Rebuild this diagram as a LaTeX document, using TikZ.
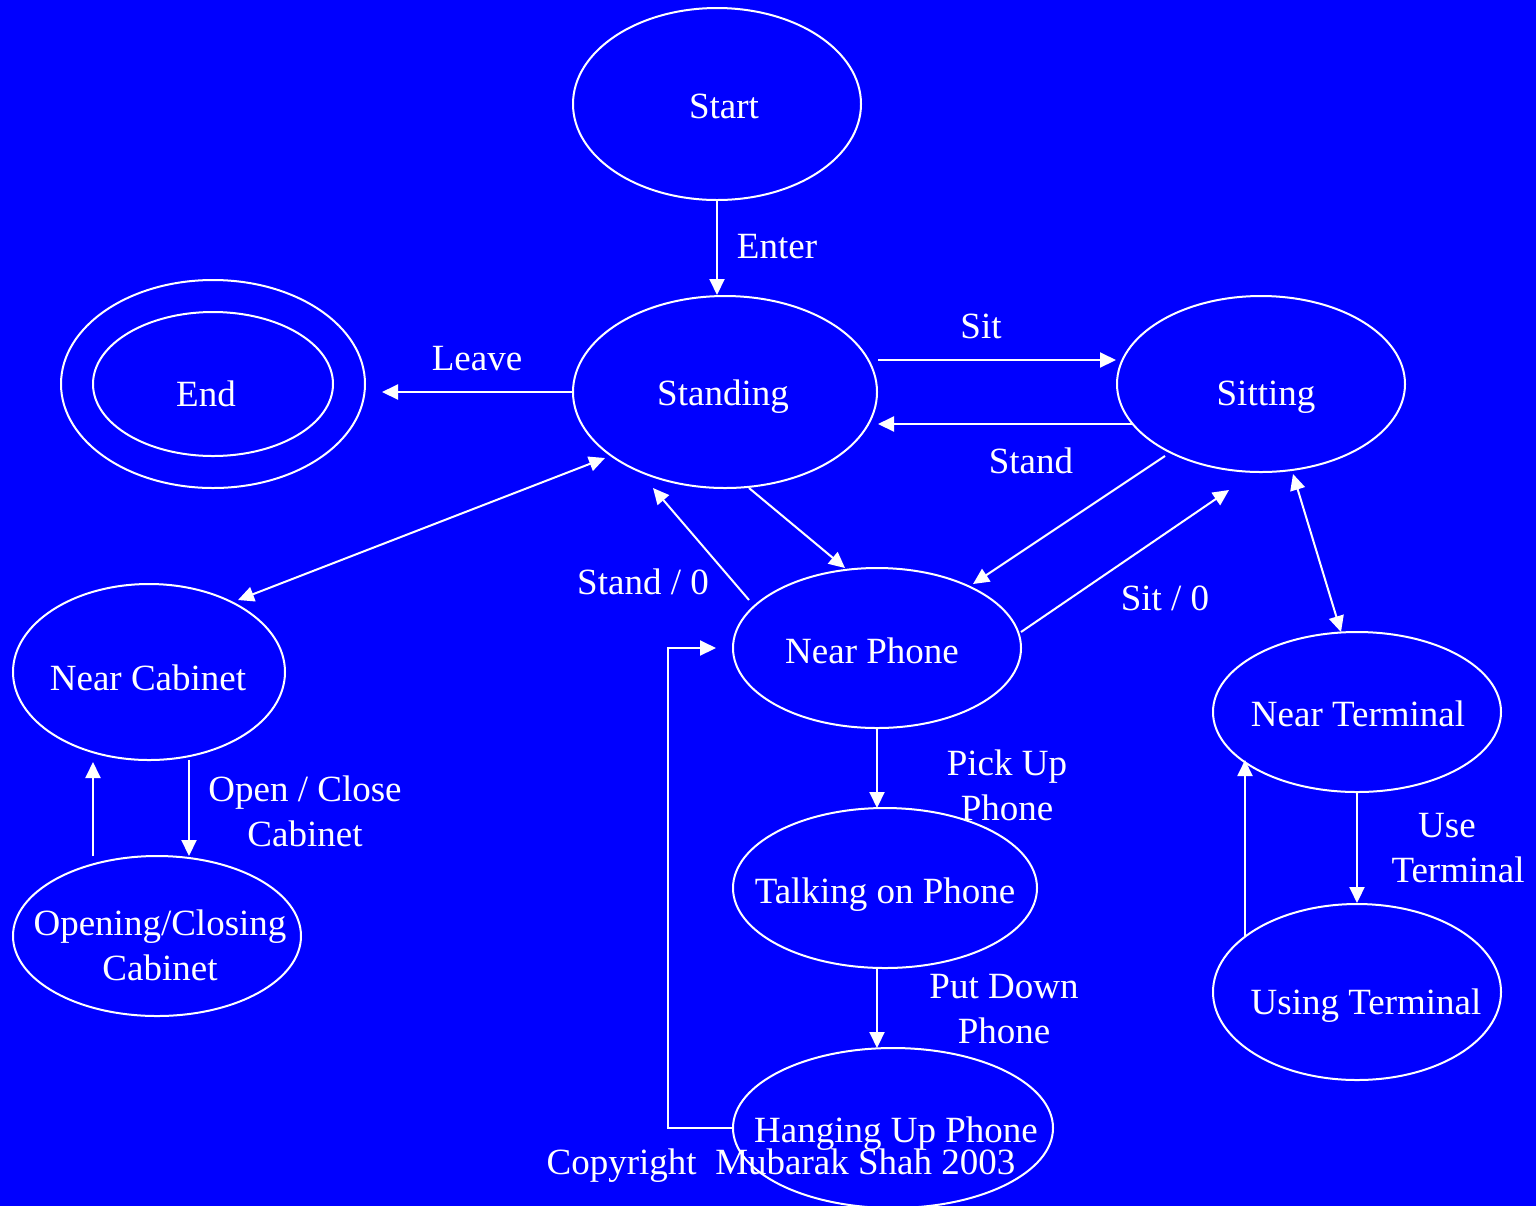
\documentclass[tikz,border=0pt]{standalone}
\usepackage{fontspec}
\setmainfont{Liberation Serif}
\usetikzlibrary{shapes.geometric,arrows.meta}
\definecolor{bgblue}{RGB}{0,0,255}
\begin{document}
\begin{tikzpicture}[x=0.5pt,y=-0.5pt,
  txtfont/.style={font=\fontsize{18.5}{22.5}\selectfont},
  state/.style={draw=white, line width=1pt, ellipse, inner sep=0pt},
  lbl/.style={text=white, txtfont, align=center, inner sep=0pt},
  arr/.style={draw=white, line width=1pt, -{Triangle[length=8pt,width=7.5pt]}},
  darr/.style={draw=white, line width=1pt,
    {Triangle[length=8pt,width=7.5pt]}-{Triangle[length=8pt,width=7.5pt]}}]
\fill[bgblue] (0,0) rectangle (1536,1206);
\useasboundingbox (0,0) rectangle (1536,1206);

% states (outlines)
\node[state, minimum width=144pt, minimum height=96pt] (start) at (717,104) {};
\node[state, minimum width=152pt, minimum height=96pt] (standing) at (725,392) {};
\node[state, minimum width=144pt, minimum height=88pt] (sitting) at (1261,384) {};
\node[state, minimum width=152pt, minimum height=104pt] (endouter) at (213,384) {};
\node[state, minimum width=120pt, minimum height=72pt] (endinner) at (213,384) {};
\node[state, minimum width=136pt, minimum height=88pt] (nearcab) at (149,672) {};
\node[state, minimum width=144pt, minimum height=80pt] (opencab) at (157,936) {};
\node[state, minimum width=144pt, minimum height=80pt] (nearphone) at (877,648) {};
\node[state, minimum width=152pt, minimum height=80pt] (talking) at (885,888) {};
\node[state, minimum width=160pt, minimum height=80pt] (hanging) at (893,1128) {};
\node[state, minimum width=144pt, minimum height=80pt] (nearterm) at (1357,712) {};
\node[state, minimum width=144pt, minimum height=88pt] (usingterm) at (1357,992) {};

% state names
\node[lbl, anchor=base] (tstart) at (724,118) {Start};
\node[lbl, anchor=base] (tstanding) at (723,405) {Standing};
\node[lbl, anchor=base] (tsitting) at (1266,405) {Sitting};
\node[lbl, anchor=base] (tend) at (206,406) {End};
\node[lbl, anchor=base] (tnearcab) at (148,690) {Near Cabinet};
\node[lbl] (topencab) at (160,945) {Opening/Closing\\Cabinet};
\node[lbl, anchor=base] (tnearphone) at (872,663) {Near Phone};
\node[lbl, anchor=base] (ttalking) at (885,903) {Talking on Phone};
\node[lbl, anchor=base] (thanging) at (896,1142) {Hanging Up Phone};
\node[lbl, anchor=base] (tnearterm) at (1358,726) {Near Terminal};
\node[lbl, anchor=base] (tusingterm) at (1366,1014) {Using Terminal};

% transitions
\draw[arr] (start.south) -- (start.south |- standing.north);
\draw[arr] ([yshift=16pt]standing.east) -- ([yshift=12pt]sitting.west);
\draw[arr] ([xshift=8pt,yshift=-20pt]sitting.west) -- ([yshift=-16pt]standing.east);
\draw[arr] (standing.west) -- ([xshift=8pt,yshift=-4pt]endouter.east);
\draw[darr] ([shift={(-120,66)}]standing.center) -- ([shift={(89,-72)}]nearcab.center);
\draw[arr] ([shift={(24,96)}]standing.center) -- ([shift={(-32,-80)}]nearphone.center);
\draw[arr] ([shift={(-128,-48)}]nearphone.center) -- ([shift={(-72,96)}]standing.center);
\draw[arr] ([shift={(-96,72)}]sitting.center) -- ([shift={(96,-64)}]nearphone.center);
\draw[arr] ([shift={(144,-16)}]nearphone.center) -- ([shift={(-32,106)}]sitting.center);
\draw[darr] ([shift={(32,90)}]sitting.center) -- ([shift={(-16,-80)}]nearterm.center);
\draw[arr] (nearphone.south) -- ([shift={(-8,-80)}]talking.center);
\draw[arr] ([shift={(-8,80)}]talking.center) -- ([shift={(-16,-80)}]hanging.center);
\draw[arr] (hanging.west) -- ++(-64,0) |- ([xshift=-8pt]nearphone.west);
\draw[arr] ([shift={(40,88)}]nearcab.center) -- ([shift={(32,-80)}]opencab.center);
\draw[arr] ([shift={(-64,-80)}]opencab.center) -- ([shift={(-56,90)}]nearcab.center);
\draw[arr] (nearterm.south) -- (usingterm.north);
\draw[arr] ([shift={(-112,-56)}]usingterm.center) -- ([shift={(-112,48)}]nearterm.center);

% transition labels
\node[lbl, anchor=base] (lenter) at (777,258) {Enter};
\node[lbl, anchor=base] (lsit) at (981,338) {Sit};
\node[lbl, anchor=base] (lstand) at (1031,473) {Stand};
\node[lbl, anchor=base] (lleave) at (477,370) {Leave};
\node[lbl, anchor=base] (lstand0) at (643,594) {Stand / 0};
\node[lbl, anchor=base] (lsit0) at (1165,610) {Sit / 0};
\node[lbl] (lpick) at (1007,785) {Pick Up\\Phone};
\node[lbl] (lput) at (1004,1009) {Put Down\\Phone};
\node[lbl] (lopen) at (305,811) {Open / Close\\Cabinet};
\node[lbl] (luse) at (1458,848) {Use\hspace*{11pt}\\Terminal};
\node[lbl, anchor=base] (copy) at (781,1174) {Copyright\ \ Mubarak Shah 2003};
\end{tikzpicture}
\end{document}
